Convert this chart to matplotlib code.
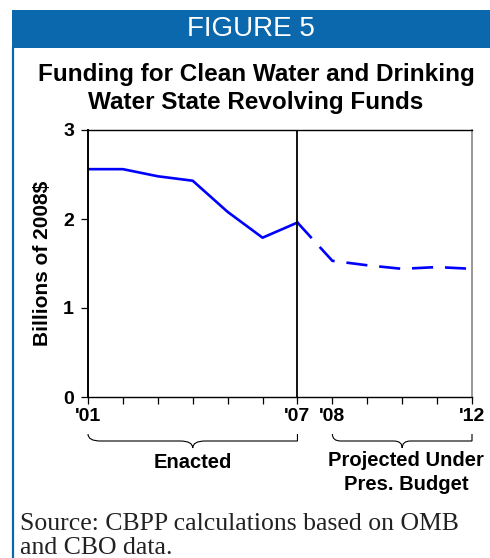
import matplotlib
matplotlib.use("Agg")
import matplotlib.pyplot as plt
from matplotlib.path import Path
from matplotlib.patches import PathPatch, Rectangle
from matplotlib.lines import Line2D

# Funding for clean water / drinking water state revolving funds (billions of 2008$)
years = [2001, 2002, 2003, 2004, 2005, 2006, 2007, 2008, 2009, 2010, 2011, 2012]
funding = [2.56, 2.56, 2.48, 2.43, 2.08, 1.79, 1.96, 1.53, 1.48, 1.44, 1.46, 1.44]
last_enacted = 2007
year_labels = {2001: "'01", 2007: "'07", 2008: "'08", 2012: "'12"}
y_ticks = [0, 1, 2, 3]

W, H = 490, 558
BLUE = "#0b68ad"
LINE = "#0000ff"
SANS = "Liberation Sans"
SERIF = "Liberation Serif"


def fx(x):
    return x / W


def fy(y):
    return 1 - y / H


fig = plt.figure(figsize=(W / 100, H / 100), dpi=100)

# header band and left border
fig.patches.append(Rectangle((fx(12), fy(48)), 1, 38 / H, transform=fig.transFigure,
                             facecolor=BLUE, edgecolor="none"))
fig.lines.append(Line2D([fx(13), fx(13)], [fy(48), 0], transform=fig.transFigure,
                        color=BLUE, lw=1.6))
fig.text(fx(251), fy(29), "FIGURE 5", color="white", fontsize=20, family=SANS,
         ha="center", va="center")
fig.text(fx(256), fy(74), "Funding for Clean Water and Drinking", fontsize=17.5,
         family=SANS, weight="bold", ha="center", va="center")
fig.text(fx(256), fy(103), "Water State Revolving Funds", fontsize=17.5,
         family=SANS, weight="bold", ha="center", va="center")

ax = fig.add_axes([fx(88), fy(397), 384 / W, 267 / H])

split = years.index(last_enacted)
ax.plot(years[:split + 1], funding[:split + 1], color=LINE, lw=1.9)
ax.plot(years[split:], funding[split:], color=LINE, lw=1.9, dashes=(8, 4.5))
ax.axvline(last_enacted, color="black", lw=1.3)

ax.set_xlim(years[0], years[-1])
ax.set_ylim(0, 3)
ax.set_xticks(years)
ax.set_xticklabels([year_labels.get(y, "") for y in years])
ax.set_yticks(y_ticks)
ax.tick_params(direction="out", length=5, width=0.9, labelsize=14, pad=3)
for lab in ax.get_xticklabels() + ax.get_yticklabels():
    lab.set_family(SANS)
    lab.set_weight("bold")
ax.tick_params(axis="y", pad=5)

ax.spines["left"].set_linewidth(1.4)
ax.spines["bottom"].set_linewidth(1.0)
ax.spines["top"].set_linewidth(1.0)
ax.spines["right"].set_color("#888888")
ax.spines["right"].set_linewidth(1.2)

ax.set_ylabel("Billions of 2008$", fontsize=15, family=SANS, weight="bold", labelpad=8)


def brace(x0, x1, top, bot):
    # curly brace below the axis, x in data units, y in axes units
    xc = (x0 + x1) / 2
    mid = (top + bot) / 2
    r = (x1 - x0) * 0.06
    verts = [(x0, top), (x0, mid), (x0 + r, mid), (x0 + r, mid),
             (xc - r, mid), (xc - r, mid), (xc, mid), (xc, bot),
             (xc, mid), (xc + r, mid), (xc + r, mid),
             (x1 - r, mid), (x1 - r, mid), (x1, mid), (x1, top)]
    codes = [Path.MOVETO, Path.CURVE3, Path.CURVE3, Path.LINETO,
             Path.LINETO, Path.LINETO, Path.CURVE3, Path.CURVE3,
             Path.CURVE3, Path.CURVE3, Path.LINETO,
             Path.LINETO, Path.CURVE3, Path.CURVE3, Path.LINETO]
    ax.add_patch(PathPatch(Path(verts, codes), transform=ax.get_xaxis_transform(),
                           facecolor="none", edgecolor="black", lw=0.8, clip_on=False))


def ay(ypx):
    return (397 - ypx) / 267


brace(years[0], last_enacted, ay(434), ay(448))
brace(years[split + 1], years[-1], ay(434), ay(448))

fig.text(fx(193), fy(462), "Enacted", fontsize=14.5, family=SANS, weight="bold",
         ha="center", va="center")
fig.text(fx(406), fy(460), "Projected Under", fontsize=14.5, family=SANS, weight="bold",
         ha="center", va="center")
fig.text(fx(406), fy(485), "Pres. Budget", fontsize=14.5, family=SANS, weight="bold",
         ha="center", va="center")

fig.text(fx(20), fy(524), "Source: CBPP calculations based on OMB", fontsize=18.5,
         family=SERIF, ha="left", va="center", color="#222222")
fig.text(fx(20), fy(548), "and CBO data.", fontsize=18.5, family=SERIF,
         ha="left", va="center", color="#222222")

fig.savefig("out.png", dpi=100)
